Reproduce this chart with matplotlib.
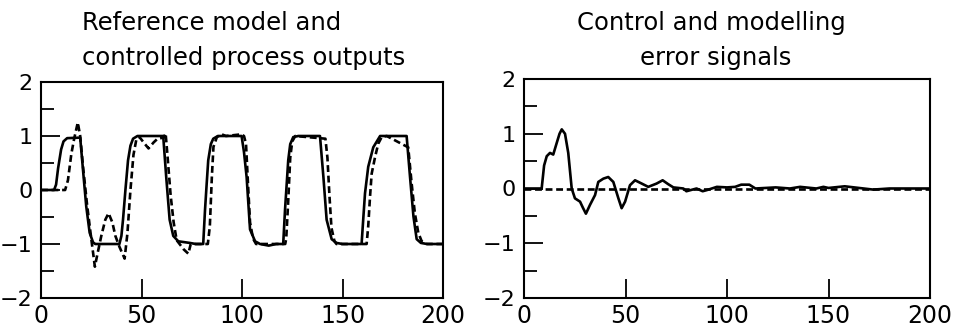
import matplotlib
matplotlib.use("Agg")
import matplotlib.pyplot as plt

# ---------------- data ----------------
# Left panel: reference model output (solid) and controlled process output (dashed)
left_solid_t = [0, 6.5, 7.5, 8.5, 10, 11.2, 13, 19.5, 20.9, 22.5, 24.2, 25.9, 27, 39,
                40, 40.8, 42, 43.3, 44.5, 45.8, 48, 60.8, 62.3, 64, 65.8, 68.3, 74, 77,
                80.7, 81.6, 82.4, 83.2, 84.5, 85.7, 88, 99.8, 101, 102.3, 104, 106.5, 109,
                113.3, 117, 120.5, 121.4, 123, 124, 125.5, 128, 138.8, 140.5, 142.1, 144.6,
                147, 150, 159.5, 160.3, 161.2, 162.8, 165.3, 168.7, 181.9, 183.6, 185.3,
                186.9, 189, 192, 200]
left_solid_v = [0, 0, 0.1, 0.4, 0.75, 0.9, 0.96, 0.97, 0.37, -0.3, -0.79, -0.97, -1.0, -1.0,
                -0.85, -0.55, 0.0, 0.55, 0.82, 0.95, 1.0, 1.0, 0.24, -0.55, -0.85, -0.95, -0.98, -1.0,
                -1.0, -0.37, 0.1, 0.55, 0.85, 0.95, 1.0, 1.0, 0.7, 0.24, -0.73, -0.95, -1.0,
                -1.03, -1.0, -1.0, -0.37, 0.55, 0.85, 0.98, 1.0, 1.0, 0.24, -0.55, -0.91,
                -0.98, -1.0, -1.0, -0.55, -0.06, 0.43, 0.79, 1.0, 1.0, 0.24, -0.49,
                -0.91, -0.98, -1.0, -1.0]

left_dash_t = [0, 12, 13.4, 15.1, 16.5, 18.3, 19.5, 21, 23, 25, 26.8, 28, 30, 32, 33.6, 35.5,
               37, 39, 41.6, 43, 44.5, 46, 47.5, 49, 51.5, 53.5, 56, 58, 61, 62, 63, 64.5,
               66, 67.5, 71, 73.3, 74.5, 76, 83, 84, 85, 85.8, 87.5, 90, 92, 99.5, 101, 102,
               103, 104, 105.5, 107, 121.5, 122, 123, 124, 125, 126.5, 141.5, 142.5, 143.5,
               144.5, 146, 147, 162, 162.8, 163.7, 164.5, 166.2, 167.8, 169.5, 172, 182.7,
               184.4, 186, 187.7, 189.4, 192, 200]
left_dash_v = [0, 0, 0.18, 0.67, 0.95, 1.25, 1.0, 0.4, -0.3, -0.9, -1.42, -1.2, -0.85, -0.55,
               -0.43, -0.6, -0.85, -1.05, -1.27, -0.8, 0.0, 0.65, 0.95, 0.98, 0.86, 0.77, 0.88,
               0.95, 0.97, 1.05, 0.6, -0.1, -0.6, -0.93, -1.1, -1.18, -1.0, -1.0, -1.0, -0.67,
               0.24, 0.8, 0.98, 1.03, 1.0, 1.03, 1.0, 0.85, 0.1, -0.6, -0.9, -1.0, -1.0, -0.9,
               -0.2, 0.6, 0.9, 1.0, 0.95, 0.6, -0.1, -0.7, -0.95, -1.0, -1.0, -0.67, -0.12,
               0.3, 0.61, 0.86, 0.98, 1.0, 0.79, 0.12, -0.43, -0.79, -0.95, -1.0, -1.0]

# Right panel: control error (solid) and modelling error (dashed)
right_solid_t = [0, 8.7, 9.9, 11.2, 12.8, 14.4, 16.1, 17.5, 18.6, 20.2, 21.8, 23.5, 25.1, 27.6,
                 29, 30.5, 32.5, 35, 36.6, 39.1, 41.5, 44, 46.5, 48.1, 49.8, 52.2, 54.7, 58,
                 61.2, 65.3, 68.3, 71, 73.6, 78.5, 80, 85, 88, 90, 95, 100, 104, 107, 111, 114,
                 124, 131, 136, 144, 147.5, 150, 158, 165, 172, 180, 196.6, 200]
right_solid_v = [0, 0, 0.42, 0.59, 0.65, 0.62, 0.83, 1.0, 1.08, 1.0, 0.65, 0.0, -0.18, -0.24,
                 -0.35, -0.46, -0.3, -0.12, 0.12, 0.18, 0.21, 0.12, -0.18, -0.36, -0.24, 0.06,
                 0.15, 0.09, 0.03, 0.09, 0.15, 0.08, 0.02, 0.0, -0.05, 0.0, -0.05, -0.03, 0.03,
                 0.02, 0.03, 0.07, 0.07, 0.0, 0.02, 0.0, 0.03, 0.0, 0.03, 0.01, 0.04, 0.01,
                 -0.02, 0.0, 0.0, 0.0]
right_dash_t = [0, 200]
right_dash_v = [0, 0]

x_ticks = [0, 50, 100, 150, 200]
y_ticks = [-2, -1, 0, 1, 2]
y_minor = [-1.5, -0.5, 0.5, 1.5]

title_left = ["Reference model and", "controlled process outputs"]
title_right = ["Control and modelling", "error signals"]

# ---------------- figure ----------------
plt.rcParams['font.family'] = ['DejaVu Sans']
fig = plt.figure(figsize=(9.6, 3.34), dpi=100)

ax1 = fig.add_axes([41/960, 1-298/334, 402/960, 216/334])
ax2 = fig.add_axes([524/960, 1-298/334, 406/960, 219/334])

lw = 1.9
dash = (2.6, 1.4)

ax1.plot(left_dash_t, left_dash_v, color='black', lw=lw, dashes=dash)
ax1.plot(left_solid_t, left_solid_v, color='black', lw=lw)

ax2.plot(right_dash_t, right_dash_v, color='black', lw=lw, dashes=dash)
ax2.plot(right_solid_t, right_solid_v, color='black', lw=lw)

for ax in (ax1, ax2):
    ax.set_xlim(0, 200)
    ax.set_ylim(-2, 2)
    ax.set_xticks(x_ticks)
    ax.set_yticks(y_ticks)
    ax.set_yticks(y_minor, minor=True)
    ax.set_xticklabels([str(v) for v in x_ticks])
    ax.set_yticklabels(['\u22122', '\u22121', '0', '1', '2'])
    ax.tick_params(axis='x', which='major', direction='in', length=13.5, width=1.3,
                   labelsize=17, pad=4, top=False)
    ax.tick_params(axis='y', which='major', direction='in', length=13.5, width=1.3,
                   labelsize=16, pad=6, right=False)
    ax.tick_params(axis='y', which='minor', direction='in', length=9, width=1.3, right=False)
    ax.tick_params(axis='x', which='minor', bottom=False, top=False)
    for s in ax.spines.values():
        s.set_linewidth(1.5)

tkw = dict(fontsize=17.5, color='black')
fig.text(82/960, 1-30/334, title_left[0], ha='left', va='baseline', **tkw)
fig.text(82/960, 1-65/334, title_left[1], ha='left', va='baseline', **tkw)
fig.text(711/960, 1-30/334, title_right[0], ha='center', va='baseline', **tkw)
fig.text(716/960, 1-65/334, title_right[1], ha='center', va='baseline', **tkw)

fig.savefig('out.png', dpi=100)
